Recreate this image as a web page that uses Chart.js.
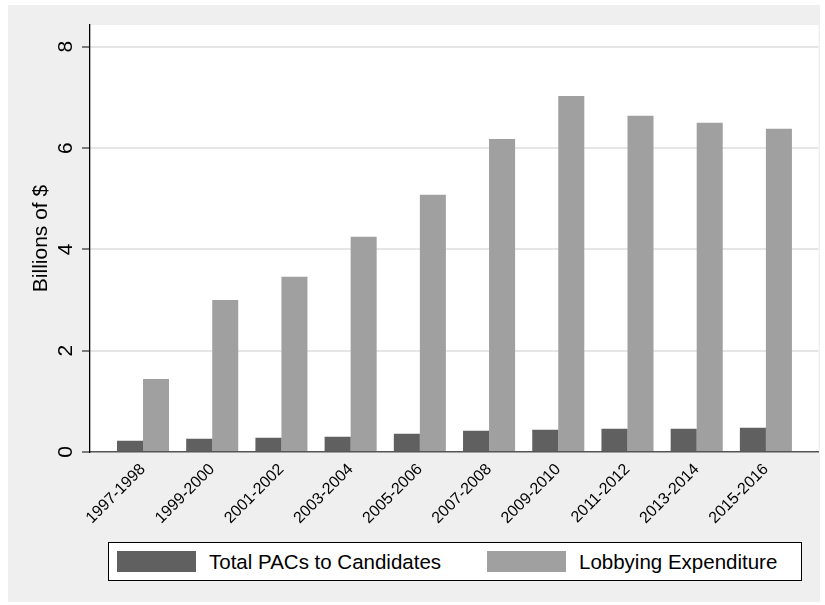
<!DOCTYPE html>
<html>
<head>
<meta charset="utf-8">
<title>PACs and Lobbying</title>
<script src="https://cdn.jsdelivr.net/npm/chart.js@4.4.1/dist/chart.umd.min.js"></script>
<style>
    html, body { margin: 0; padding: 0; background: #ffffff; }
    #wrap { position: relative; width: 825px; height: 605px; }
    #legend {
        position: absolute;
        height: 37px;
        border: 1px solid #000000;
        background: #ffffff;
        font: 20.5px "Liberation Sans", Arial, Helvetica, sans-serif;
        color: #000000;
    }
    #legend .sw { position: absolute; top: 8px; width: 79px; height: 21px; }
    #legend .tx { position: absolute; top: 0; line-height: 37px; white-space: nowrap; }
</style>
</head>
<body>
<div id="wrap">
    <canvas id="bar-chart" width="825" height="605"></canvas>
    <div id="legend"></div>
</div>
<script>
    "use strict";

    // Data (billions of $)
    var categories = ["1997-1998", "1999-2000", "2001-2002", "2003-2004", "2005-2006",
        "2007-2008", "2009-2010", "2011-2012", "2013-2014", "2015-2016"];
    var pacs = [0.22, 0.26, 0.28, 0.30, 0.36, 0.42, 0.44, 0.46, 0.46, 0.48];
    var lobbying = [1.44, 3.00, 3.46, 4.25, 5.08, 6.18, 7.03, 6.64, 6.50, 6.38];
    var yTicks = [0, 2, 4, 6, 8];

    var font = "'Liberation Sans', Arial, Helvetica, sans-serif";

    function toPoints(arr) {
        return arr.map(function (v, i) {
            return { x: i, y: v };
        });
    }

    // Gray panel, white plot region, rotated y labels
    var stataLook = {
        id: "stataLook",
        beforeDraw: function (chart) {
            var ctx = chart.ctx;
            var a = chart.chartArea;
            ctx.save();
            ctx.fillStyle = "#efefef";
            ctx.fillRect(8, 5, 812, 597);
            ctx.fillStyle = "#ffffff";
            ctx.fillRect(a.left, a.top, a.right - a.left, a.bottom - a.top);
            ctx.restore();
        },
        afterDraw: function (chart) {
            var ctx = chart.ctx;
            var y = chart.scales.y;
            ctx.save();
            ctx.fillStyle = "#000000";
            ctx.font = "21px " + font;
            ctx.textAlign = "center";
            ctx.textBaseline = "middle";
            yTicks.forEach(function (v) {
                ctx.save();
                ctx.translate(66, y.getPixelForValue(v));
                ctx.rotate(-Math.PI / 2);
                ctx.fillText(String(v), 0, 0);
                ctx.restore();
            });
            ctx.restore();
        }
    };

    var ctx1 = document.getElementById("bar-chart").getContext("2d");
    var myChart1 = new Chart(ctx1, {
        type: "bar",
        data: {
            datasets: [
                {
                    label: "Total PACs to Candidates",
                    data: toPoints(pacs),
                    backgroundColor: "#606060",
                },
                {
                    label: "Lobbying Expenditure",
                    data: toPoints(lobbying),
                    backgroundColor: "#a0a0a0",
                },
            ],
        },
        options: {
            responsive: false,
            animation: false,
            categoryPercentage: 0.752,
            barPercentage: 1,
            layout: {
                padding: { top: 25, right: 6.5, left: 0, bottom: 73 },
            },
            plugins: {
                tooltip: { enabled: false },
                legend: { display: false },
            },
            scales: {
                x: {
                    type: "linear",
                    offset: false,
                    min: -0.766,
                    max: 9.76,
                    afterBuildTicks: function (scale) {
                        scale.ticks = categories.map(function (c, i) {
                            return { value: i };
                        });
                    },
                    afterFit: function (scale) {
                        scale.height = 80;
                    },
                    grid: { display: false, drawTicks: false },
                    border: { display: true, color: "#555555", width: 1.5 },
                    ticks: {
                        minRotation: 45,
                        maxRotation: 45,
                        padding: 8,
                        color: "#000000",
                        font: { family: font, size: 16 },
                        callback: function (value) {
                            return categories[value];
                        },
                    },
                },
                y: {
                    min: 0,
                    max: 8.43,
                    afterBuildTicks: function (scale) {
                        scale.ticks = yTicks.map(function (v) {
                            return { value: v };
                        });
                    },
                    afterFit: function (scale) {
                        scale.width = 90;
                    },
                    grid: {
                        color: function (c) {
                            return c.tick && c.tick.value === 0 ? "rgba(0,0,0,0)" : "#e6e6e6";
                        },
                        lineWidth: 2,
                        tickColor: "#555555",
                        tickLength: 8,
                        tickWidth: 1.5,
                    },
                    border: { display: true, color: "#000000", width: 1.3 },
                    ticks: { display: false },
                    title: {
                        display: true,
                        text: "Billions of $",
                        color: "#000000",
                        font: { family: font, size: 21 },
                        padding: { top: 29, bottom: 0 },
                    },
                },
            },
        },
        plugins: [stataLook],
    });

    // Legend (HTML, framed like Stata's)
    var area = myChart1.chartArea;
    var legend = document.getElementById("legend");
    var legendLeft = Math.round(area.left + 18);
    legend.style.left = legendLeft + "px";
    legend.style.top = "542px";
    legend.style.width = (Math.round(area.right - 18) - legendLeft - 1) + "px";
    var offsets = [8, 378];
    myChart1.data.datasets.forEach(function (ds, i) {
        var sw = document.createElement("span");
        sw.className = "sw";
        sw.style.left = offsets[i] + "px";
        sw.style.background = ds.backgroundColor;
        legend.appendChild(sw);
        var tx = document.createElement("span");
        tx.className = "tx";
        tx.style.left = (offsets[i] + 92) + "px";
        tx.textContent = ds.label;
        legend.appendChild(tx);
    });
</script>
</body>
</html>
